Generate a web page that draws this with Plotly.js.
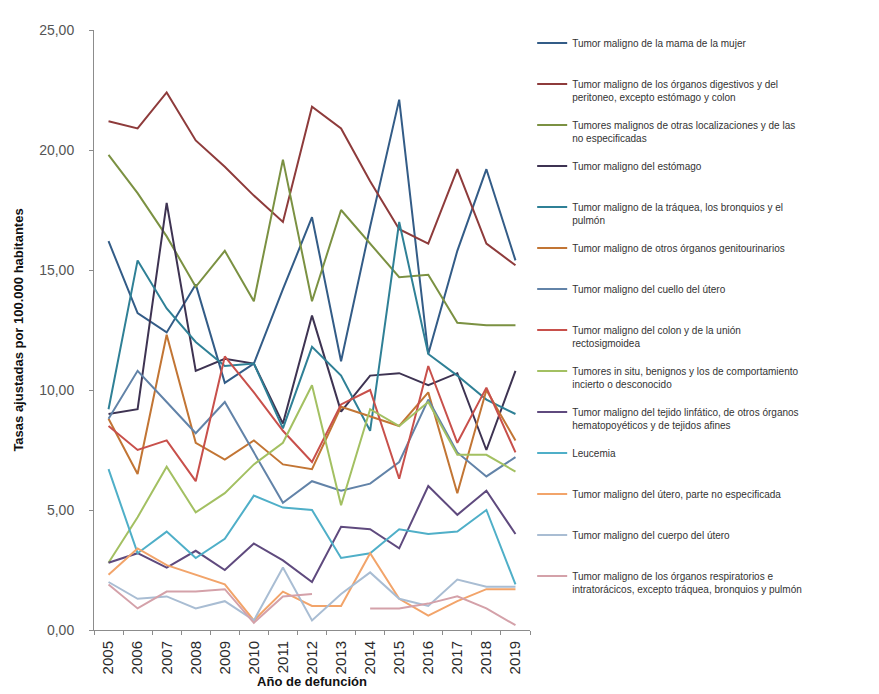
<!DOCTYPE html>
<html>
<head>
<meta charset="utf-8">
<script src="https://cdn.plot.ly/plotly-3.0.1.min.js"></script>
<style>html,body{margin:0;padding:0;background:#fff;}#chart{width:879px;height:694px;}</style>
</head>
<body>
<div id="chart"></div>
<script>
const years = ['2005','2006','2007','2008','2009','2010','2011','2012','2013','2014','2015','2016','2017','2018','2019'];

const names = [
  'Tumor maligno de la mama de la mujer',
  'Tumor maligno de los órganos digestivos y del<br>peritoneo, excepto estómago y colon',
  'Tumores malignos de otras localizaciones y de las<br>no especificadas',
  'Tumor maligno del estómago',
  'Tumor maligno de la tráquea, los bronquios y el<br>pulmón',
  'Tumor maligno de otros órganos genitourinarios',
  'Tumor maligno del cuello del útero',
  'Tumor maligno del colon y de la unión<br>rectosigmoidea',
  'Tumores in situ, benignos y los de comportamiento<br>incierto o desconocido',
  'Tumor maligno del tejido linfático, de otros órganos<br>hematopoyéticos y de tejidos afines',
  'Leucemia',
  'Tumor maligno del útero, parte no especificada',
  'Tumor maligno del cuerpo del útero',
  'Tumor maligno de los órganos respiratorios e<br>intratorácicos, excepto tráquea, bronquios y pulmón'
];

const mama        = [16.2, 13.2, 12.4, 14.4, 10.3, 11.1, 14.2, 17.2, 11.2, 16.8, 22.1, 11.5, 15.8, 19.2, 15.4];
const digestivos  = [21.2, 20.9, 22.4, 20.4, 19.3, 18.1, 17.0, 21.8, 20.9, 18.7, 16.7, 16.1, 19.2, 16.1, 15.2];
const otras       = [19.8, 18.2, 16.4, 14.3, 15.8, 13.7, 19.6, 13.7, 17.5, 16.1, 14.7, 14.8, 12.8, 12.7, 12.7];
const estomago    = [9.0, 9.2, 17.8, 10.8, 11.3, 11.1, 8.6, 13.1, 9.1, 10.6, 10.7, 10.2, 10.7, 7.5, 10.8];
const traquea     = [9.2, 15.4, 13.4, 12.0, 11.0, 11.1, 8.4, 11.8, 10.6, 8.3, 17.0, 11.5, 10.6, 9.6, 9.0];
const genito      = [8.8, 6.5, 12.3, 7.8, 7.1, 7.9, 6.9, 6.7, 9.3, 8.9, 8.5, 9.9, 5.7, 10.0, 7.9];
const cuello      = [8.8, 10.8, 9.5, 8.2, 9.5, 7.4, 5.3, 6.2, 5.8, 6.1, 7.0, 9.6, 7.4, 6.4, 7.2];
const colon       = [8.5, 7.5, 7.9, 6.2, 11.4, 9.9, 8.3, 7.0, 9.4, 10.0, 6.3, 11.0, 7.8, 10.1, 7.4];
const insitu      = [2.8, 4.7, 6.8, 4.9, 5.7, 6.9, 7.8, 10.2, 5.2, 9.2, 8.5, 9.5, 7.3, 7.3, 6.6];
const linfatico   = [2.8, 3.2, 2.6, 3.3, 2.5, 3.6, 2.9, 2.0, 4.3, 4.2, 3.4, 6.0, 4.8, 5.8, 4.0];
const leucemia    = [6.7, 3.2, 4.1, 3.0, 3.8, 5.6, 5.1, 5.0, 3.0, 3.2, 4.2, 4.0, 4.1, 5.0, 1.9];
const uteroNoEsp  = [2.3, 3.4, 2.7, 2.3, 1.9, 0.4, 1.6, 1.0, 1.0, 3.2, 1.3, 0.6, 1.2, 1.7, 1.7];
const cuerpoUtero = [2.0, 1.3, 1.4, 0.9, 1.2, 0.4, 2.6, 0.4, 1.5, 2.4, 1.3, 1.0, 2.1, 1.8, 1.8];
const respirat    = [1.9, 0.9, 1.6, 1.6, 1.7, 0.3, 1.4, 1.5, null, 0.9, 0.9, 1.1, 1.4, 0.9, 0.2];

const series = [mama, digestivos, otras, estomago, traquea, genito, cuello, colon, insitu, linfatico, leucemia, uteroNoEsp, cuerpoUtero, respirat];
const colors = ['#335C87','#8E3B3B','#7B9142','#3E3352','#2F8096','#C27534','#6283A8','#C8504B','#A3C062','#5F4A7E','#4FAFC8','#F2A46A','#A9BDD3','#D4A1A9'];

const traces = series.map((vals, i) => ({
  x: years,
  y: vals,
  type: 'scatter',
  mode: 'lines',
  name: names[i].indexOf('<br>') >= 0 ? names[i] : names[i] + '<br> ',
  legendgroup: 'g' + i,
  line: {color: colors[i], width: 2},
  connectgaps: false
}));

const layout = {
  width: 879,
  height: 694,
  paper_bgcolor: '#ffffff',
  plot_bgcolor: '#ffffff',
  separators: ',.',
  margin: {l: 94, r: 349, t: 30, b: 64},
  font: {family: 'Liberation Sans, Arial, sans-serif', color: '#404040'},
  xaxis: {
    type: 'category',
    range: [-0.5, 14.5],
    showline: true,
    linecolor: '#8c8c8c',
    linewidth: 1,
    showgrid: false,
    zeroline: false,
    ticks: 'outside',
    tickson: 'boundaries',
    ticklen: 4,
    tickcolor: '#8c8c8c',
    tickangle: -90,
    ticklabelstandoff: 4,
    tickfont: {size: 15, color: '#2a2a2a', family: 'Liberation Sans, Arial, sans-serif'},
    automargin: false,
    title: {text: '<b>Año de defunción</b>', font: {size: 13, color: '#111111'}, standoff: 2}
  },
  yaxis: {
    range: [0, 25],
    tickvals: [0, 5, 10, 15, 20, 25],
    tickformat: '.2f',
    showline: true,
    linecolor: '#8c8c8c',
    linewidth: 1,
    showgrid: false,
    zeroline: false,
    ticks: 'outside',
    ticklen: 4,
    tickcolor: '#8c8c8c',
    ticklabelstandoff: 12,
    tickfont: {size: 14, color: '#555555'},
    automargin: false,
    title: {text: '<b>Tasas ajustadas por 100.000 habitantes</b>', font: {size: 13, color: '#111111'}, standoff: 12}
  },
  showlegend: true,
  legend: {
    x: 1.005,
    xanchor: 'left',
    y: 1.0,
    yanchor: 'top',
    valign: 'top',
    tracegroupgap: 12,
    bgcolor: 'rgba(0,0,0,0)',
    font: {size: 10, color: '#333333', family: 'Liberation Sans Narrow, Arial Narrow, Liberation Sans, sans-serif'}
  }
};

Plotly.newPlot('chart', traces, layout, {displayModeBar: false, staticPlot: true});
</script>
</body>
</html>
